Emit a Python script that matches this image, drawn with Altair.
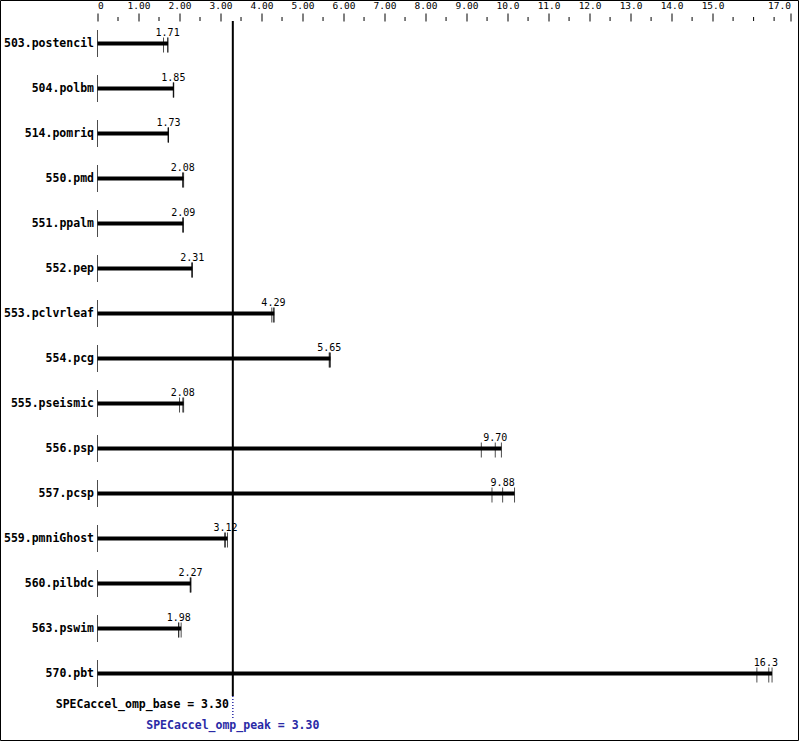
import altair as alt
import pandas as pd

benchmarks = ["503.postencil", "504.polbm", "514.pomriq", "550.pmd", "551.ppalm",
              "552.pep", "553.pclvrleaf", "554.pcg", "555.pseismic", "556.psp",
              "557.pcsp", "559.pmniGhost", "560.pilbdc", "563.pswim", "570.pbt"]
ratios = [1.71, 1.85, 1.73, 2.08, 2.09, 2.31, 4.29, 5.65, 2.08, 9.70, 9.88, 3.12, 2.27, 1.98, 16.3]
ratio_labels = ["1.71", "1.85", "1.73", "2.08", "2.09", "2.31", "4.29", "5.65", "2.08",
                "9.70", "9.88", "3.12", "2.27", "1.98", "16.3"]
runs = [
    [1.61, 1.71, 1.72],
    [1.85, 1.85, 1.86],
    [1.72, 1.73, 1.73],
    [2.08, 2.08, 2.10],
    [2.08, 2.09, 2.09],
    [2.30, 2.31, 2.31],
    [4.25, 4.29, 4.31],
    [5.65, 5.66, 5.68],
    [2.00, 2.08, 2.10],
    [9.36, 9.70, 9.85],
    [9.62, 9.88, 10.17],
    [3.10, 3.12, 3.17],
    [2.26, 2.27, 2.28],
    [1.98, 1.98, 2.04],
    [16.08, 16.37, 16.45],
]
major_ticks = [0, 1, 2, 3, 4, 5, 6, 7, 8, 9, 10, 11, 12, 13, 14, 15, 16.9]
minor_ticks = [0.5, 1.5, 2.5, 3.5, 4.5, 5.5, 6.5, 7.5, 8.5, 9.5, 10.5, 11.5, 12.5,
               13.5, 14.5, 15.5, 16, 16.5]
base_score = 3.30
peak_score = 3.30
base_text = "SPECaccel_omp_base = 3.30"
peak_text = "SPECaccel_omp_peak = 3.30"

FONT = "DejaVu Sans Mono"
BLUE = "#2a2aa6"

df = pd.DataFrame({
    "bench": benchmarks,
    "ratio": ratios,
    "label": ratio_labels,
    "maxrun": [max(r) for r in runs],
    "zero": [0] * len(benchmarks),
})
runs_df = pd.DataFrame([{"bench": b, "run": v} for b, rr in zip(benchmarks, runs) for v in rr])
minor_df = pd.DataFrame({"t": minor_ticks})
score_df = pd.DataFrame({"v": [base_score], "base": [base_text], "peak": [peak_text]})

xscale = alt.Scale(domain=[0, 16.9], nice=False, zero=True)
xaxis = alt.Axis(
    orient="top", values=major_ticks, title=None, grid=False, domain=False,
    tickSize=8, tickColor="black", labelPadding=3, labelFlush=True,
    labelFont=FONT, labelFontSize=9.5, labelColor="black",
    labelExpr="datum.value == 0 ? '0' : (datum.value > 16.5 ? '17.0' : (datum.value < 10 ? format(datum.value, '.2f') : format(datum.value, '.1f')))",
)
yenc = alt.Y("bench:N", sort=benchmarks,
             scale=alt.Scale(type="point", padding=0.5),
             axis=alt.Axis(title=None, ticks=False, domain=False, grid=False,
                           labelFont=FONT, labelFontSize=11.5, labelFontWeight="bold",
                           labelColor="black", labelPadding=4))

frame = alt.Chart(alt.Data(values=[{"a": 1}])).mark_rect(
    filled=False, stroke="black", strokeWidth=1
).encode(x=alt.value(-97), x2=alt.value(701), y=alt.value(-20.5), y2=alt.value(719.5))

bars = alt.Chart(df).mark_rule(color="black", strokeWidth=4).encode(
    x=alt.X("zero:Q", scale=xscale, axis=xaxis), x2="maxrun:Q", y=yenc)

whisk = alt.Chart(df).mark_tick(color="black", orient="vertical", size=27, thickness=1).encode(
    x=alt.X("zero:Q", scale=xscale, axis=xaxis), y=yenc)

run_ticks = alt.Chart(runs_df).mark_tick(color="black", orient="vertical", size=15,
                                         thickness=1, yOffset=1.5).encode(
    x=alt.X("run:Q", scale=xscale, axis=xaxis), y=yenc)

labels = alt.Chart(df).mark_text(font=FONT, fontSize=10, color="black",
                                 baseline="alphabetic", dy=-8).encode(
    x=alt.X("ratio:Q", scale=xscale, axis=xaxis), y=yenc, text="label:N")

minor = alt.Chart(minor_df).mark_rule(color="black", strokeWidth=1).encode(
    x=alt.X("t:Q", scale=xscale, axis=xaxis), y=alt.value(-4), y2=alt.value(0))

ref = alt.Chart(score_df).mark_rule(color="black", strokeWidth=2).encode(
    x=alt.X("v:Q", scale=xscale, axis=xaxis))

dotted = alt.Chart(score_df).mark_rule(color=BLUE, strokeWidth=1.5, strokeDash=[1, 2]).encode(
    x=alt.X("v:Q", scale=xscale, axis=xaxis), y=alt.value(675), y2=alt.value(697))

base_lbl = alt.Chart(score_df).mark_text(font=FONT, fontSize=11.5, fontWeight="bold",
                                         color="black", align="right", baseline="middle",
                                         dx=-4).encode(
    x=alt.X("v:Q", scale=xscale, axis=xaxis), y=alt.value(684), text="base:N")

peak_lbl = alt.Chart(score_df).mark_text(font=FONT, fontSize=11.5, fontWeight="bold",
                                         color=BLUE, align="center", baseline="middle").encode(
    x=alt.X("v:Q", scale=xscale, axis=xaxis), y=alt.value(705), text="peak:N")

chart = alt.layer(
    frame, bars, whisk, run_ticks, labels, minor, ref, dotted, base_lbl, peak_lbl
).properties(
    width=693, height=675,
    autosize=alt.AutoSizeParams(type="none"),
    padding={"left": 97.5, "top": 21, "right": 8.5, "bottom": 45},
    background="white",
).configure_view(stroke=None)

chart.save("out.html", embed_options={"renderer": "svg", "actions": False})
